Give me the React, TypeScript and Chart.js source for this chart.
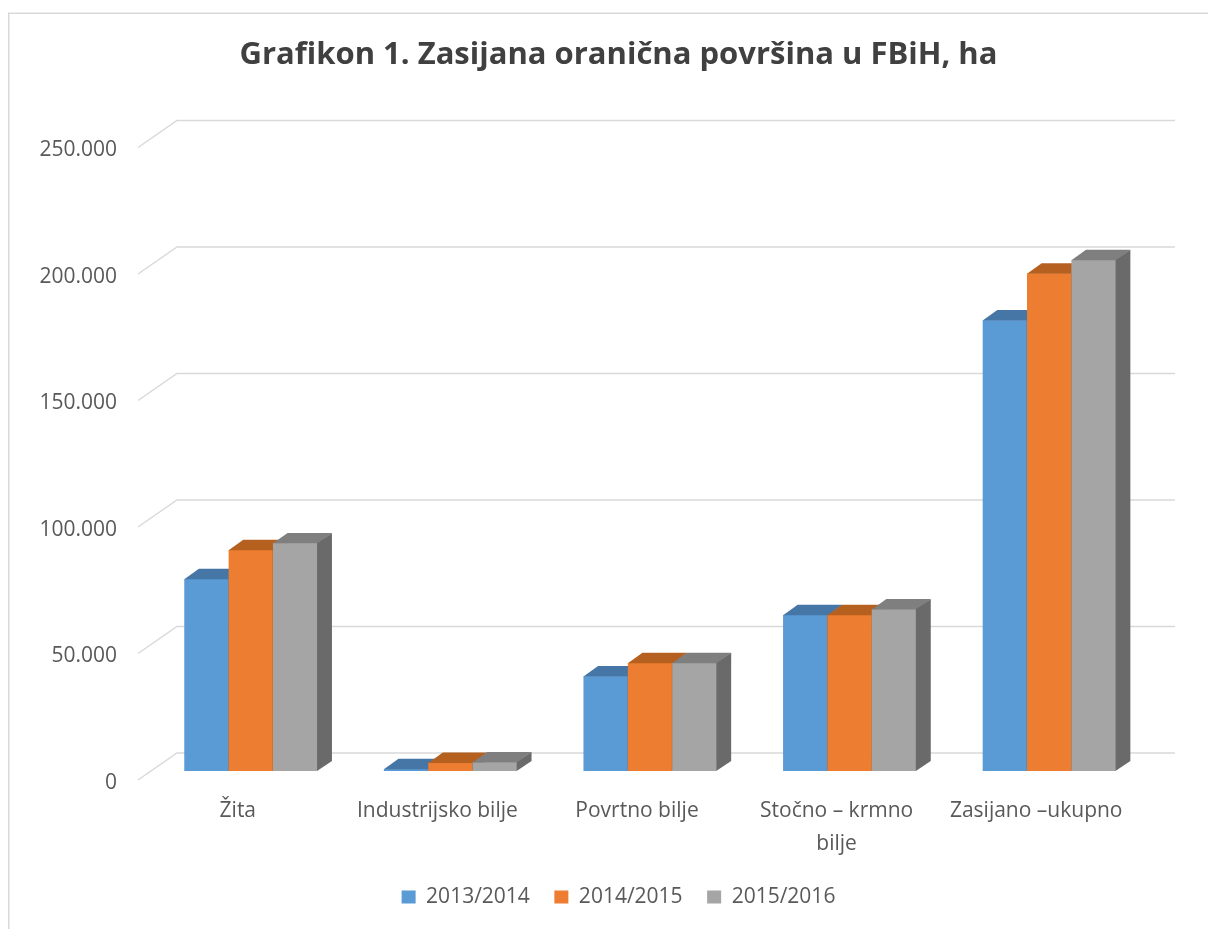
import React, { useEffect, useRef } from "react";
import { Chart, registerables } from "chart.js";

Chart.register(...registerables);

const categories: (string | string[])[] = [
  "Žita",
  "Industrijsko bilje",
  "Povrtno bilje",
  ["Stočno – krmno", "bilje"],
  "Zasijano –ukupno",
];
const seriesNames = ["2013/2014", "2014/2015", "2015/2016"];
const values2013 = [75900, 800, 37500, 61700, 178200];
const values2014 = [87400, 3300, 42700, 61700, 196700];
const values2015 = [90100, 3500, 42700, 64000, 202000];
const yTickValues = [0, 50000, 100000, 150000, 200000, 250000];

const frontColors = ["#5B9BD5", "#ED7D31", "#A5A5A5"];
const topColors = ["#4676A6", "#B6601F", "#7F7F7F"];
const sideColors = ["#3D6791", "#9C521C", "#6A6A6A"];

const FONT = "'Open Sans', 'Liberation Sans', sans-serif";
const TEXT = "#595959";

// oblique depth of the whole floor (px), bar front plane at 1/3 depth
const DEPTH_DX = 39;
const DEPTH_DY = -27;
const BAR_FRONT = 1 / 3;
const BAR_DEPTH = 0.375;

const fmt = (v: number) => String(v).replace(/\B(?=(\d{3})+(?!\d))/g, ".");

const threeD = {
  id: "threeD",
  beforeDraw(chart: any) {
    const ctx = chart.ctx;
    ctx.save();
    ctx.strokeStyle = "#d9d9d9";
    ctx.lineWidth = 1.5;
    ctx.beginPath();
    ctx.moveTo(8.75, 929);
    ctx.lineTo(8.75, 13.25);
    ctx.lineTo(1208, 13.25);
    ctx.stroke();
    ctx.restore();
  },
  beforeDatasetsDraw(chart: any) {
    const { ctx, chartArea, scales } = chart;
    const ys = scales.y;
    const fx = -DEPTH_DX * BAR_FRONT;
    const fy = -DEPTH_DY * BAR_FRONT;
    ctx.save();
    ctx.strokeStyle = "#d9d9d9";
    ctx.lineWidth = 1.5;
    ys.ticks.forEach((t: any) => {
      const py = ys.getPixelForValue(t.value);
      ctx.beginPath();
      ctx.moveTo(chartArea.left + fx, py + fy);
      ctx.lineTo(chartArea.left + fx + DEPTH_DX, py + fy + DEPTH_DY);
      ctx.lineTo(chartArea.right + fx + DEPTH_DX, py + fy + DEPTH_DY);
      ctx.stroke();
    });
    const bdx = DEPTH_DX * BAR_DEPTH;
    const bdy = DEPTH_DY * BAR_DEPTH;
    const metas = chart.data.datasets.map((_: any, i: number) => chart.getDatasetMeta(i));
    const n = chart.data.labels.length;
    for (let c = 0; c < n; c++) {
      metas.forEach((meta: any, d: number) => {
        const el = meta.data[c];
        if (!el) return;
        const { x, y, base, width } = el.getProps(["x", "y", "base", "width"], true);
        const l = x - width / 2;
        const r = x + width / 2;
        ctx.fillStyle = frontColors[d];
        ctx.fillRect(l, y, width, base - y);
        ctx.fillStyle = topColors[d];
        ctx.beginPath();
        ctx.moveTo(l, y + 0.3);
        ctx.lineTo(l + bdx, y + bdy);
        ctx.lineTo(r + bdx, y + bdy);
        ctx.lineTo(r, y + 0.3);
        ctx.closePath();
        ctx.fill();
        ctx.fillStyle = sideColors[d];
        ctx.beginPath();
        ctx.moveTo(r - 0.3, y);
        ctx.lineTo(r + bdx, y + bdy);
        ctx.lineTo(r + bdx, base + bdy);
        ctx.lineTo(r - 0.3, base);
        ctx.closePath();
        ctx.fill();
      });
    }
    ctx.restore();
    return false;
  },
};

export default function App() {
  const ref = useRef<HTMLCanvasElement | null>(null);
  useEffect(() => {
    if (!ref.current) return;
    const chart = new Chart(ref.current, {
      type: "bar",
      data: {
        labels: categories as any,
        datasets: [values2013, values2014, values2015].map((vals, i) => ({
          label: seriesNames[i],
          data: vals,
          backgroundColor: frontColors[i],
          borderWidth: 0,
          categoryPercentage: 2 / 3,
          barPercentage: 1,
        })),
      },
      options: {
        responsive: false,
        animation: false,
        events: [],
        layout: { padding: { left: 30, right: 1, top: 0, bottom: 11.5 } },
        plugins: {
          title: {
            display: true,
            text: "Grafikon 1. Zasijana oranična površina u FBiH, ha",
            color: "#404040",
            font: { family: FONT, size: 31, weight: "bold", lineHeight: 1.2 },
            padding: { top: 36.4, bottom: 64.9 },
          },
          legend: {
            display: true,
            position: "bottom",
            labels: {
              boxWidth: 14,
              boxHeight: 13,
              padding: 24.5,
              color: TEXT,
              font: { family: FONT, size: 21 },
            },
          },
          tooltip: { enabled: false },
        },
        scales: {
          x: {
            grid: { display: false, drawTicks: false },
            border: { display: false },
            ticks: {
              color: TEXT,
              font: { family: FONT, size: 21, lineHeight: 1.55 },
              padding: 24,
              labelOffset: DEPTH_DX * BAR_FRONT * -1,
              autoSkip: false,
              maxRotation: 0,
              minRotation: 0,
            },
            afterFit: (s: any) => {
              s.height = 91;
            },
          },
          y: {
            min: yTickValues[0],
            max: yTickValues[yTickValues.length - 1],
            afterBuildTicks: (s: any) => {
              s.ticks = yTickValues.map((v) => ({ value: v }));
            },
            grid: { display: false, drawTicks: false },
            border: { display: false },
            ticks: {
              color: TEXT,
              font: { family: FONT, size: 21 },
              padding: 34,
              labelOffset: 12,
              callback: (v: any) => fmt(Number(v)),
            },
            afterFit: (s: any) => {
              s.width = 121;
            },
          },
          yRight: {
            type: "linear",
            position: "right",
            display: true,
            grid: { display: false, drawTicks: false },
            border: { display: false },
            ticks: { display: false },
            afterFit: (s: any) => {
              s.width = 58;
            },
          },
        },
      },
      plugins: [threeD],
    });
    return () => chart.destroy();
  }, []);
  return (
    <div style={{ position: "absolute", left: 0, top: 0, width: 1208, height: 929, background: "#fff" }}>
      <canvas ref={ref} width={1208} height={929} style={{ display: "block" }} />
    </div>
  );
}
